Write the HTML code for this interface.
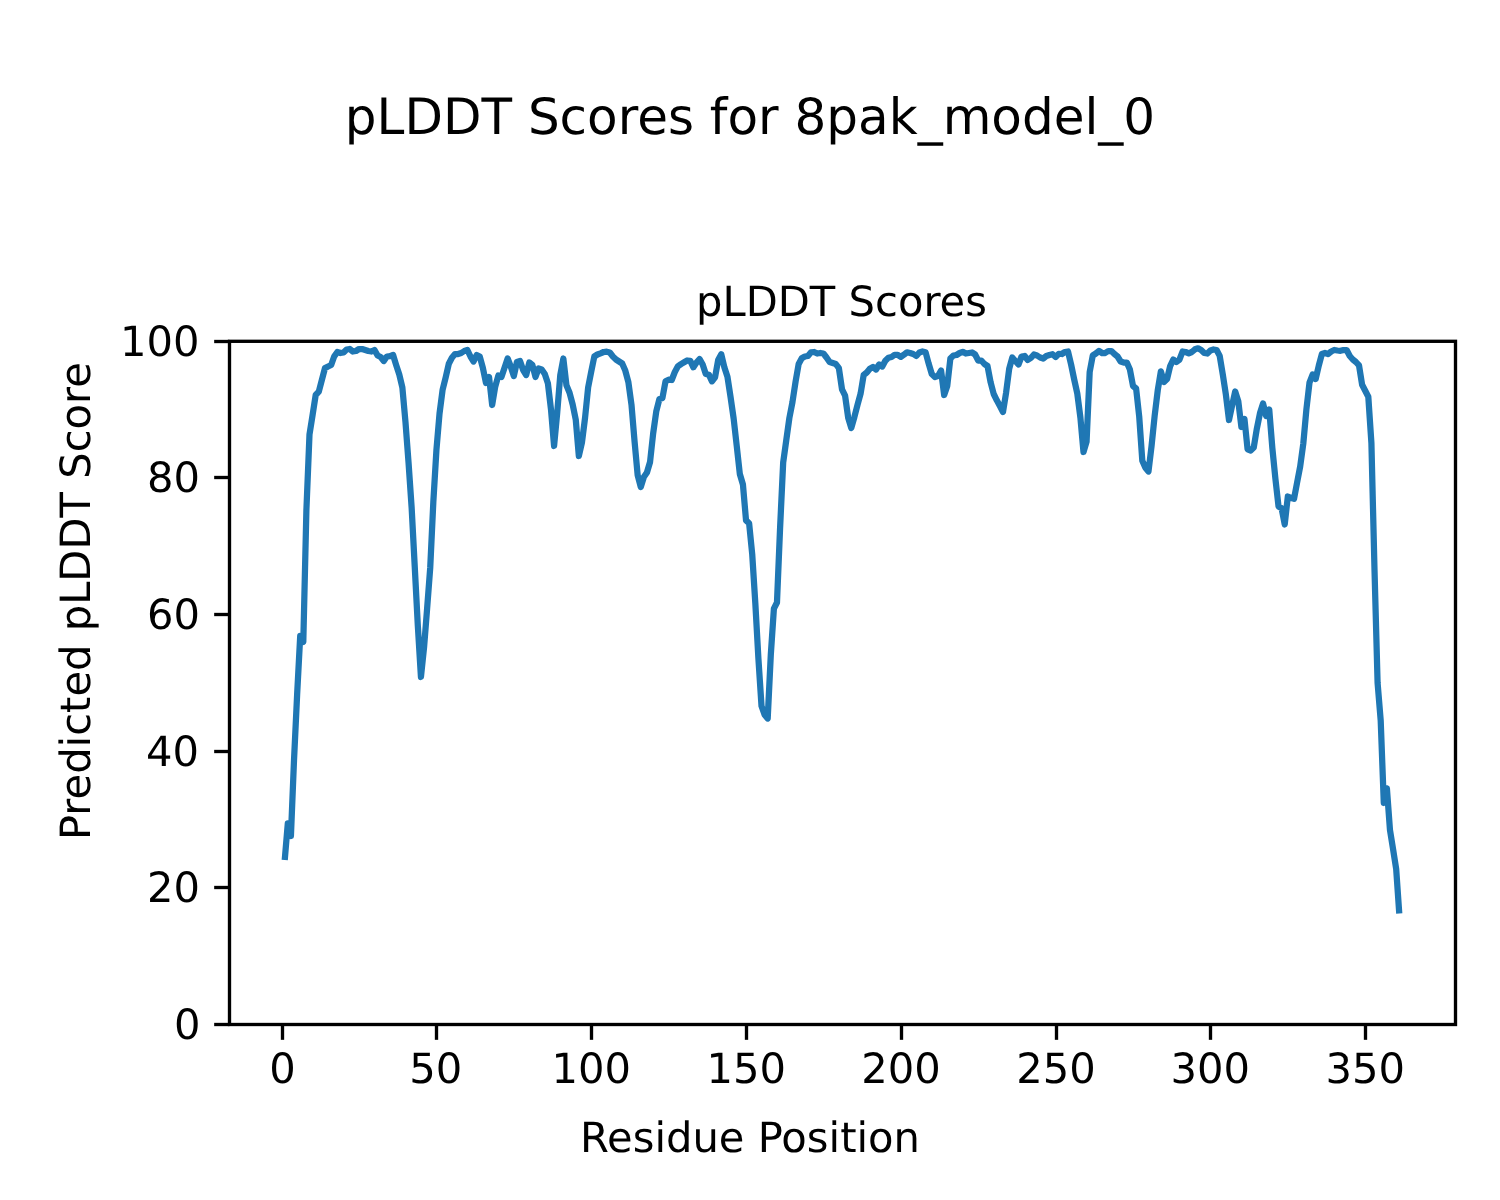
<!DOCTYPE html>
<html lang="en">
<head>
<meta charset="utf-8">
<title>pLDDT Scores for 8pak_model_0</title>
<style>
html,body{margin:0;padding:0;background:#fff;}
body{width:1500px;height:1200px;overflow:hidden;}
svg{display:block;will-change:transform;}
text{font-family:"DejaVu Sans","Liberation Sans",sans-serif;fill:#000;text-rendering:geometricPrecision;}
.t10{font-size:41.6667px;}
.t12{font-size:50.0000px;}
.tick{stroke:#000;stroke-width:3.3333;fill:none;}
</style>
</head>
<body>
<svg width="1500" height="1200" viewBox="0 0 1500 1200">
<rect x="0" y="0" width="1500" height="1200" fill="#ffffff"/>
<text class="t12" x="750.00" y="134.30" text-anchor="middle">pLDDT Scores for 8pak_model_0</text>
<text class="t10" x="841.50" y="316.00" text-anchor="middle">pLDDT Scores</text>
<text class="t10" x="750.00" y="1151.70" text-anchor="middle">Residue Position</text>
<text class="t10" transform="translate(90.00 601.10) rotate(-90)" text-anchor="middle">Predicted pLDDT Score</text>
<g class="tick">
<line x1="282.50" y1="1024.50" x2="282.50" y2="1039.83"/>
<line x1="436.50" y1="1024.50" x2="436.50" y2="1039.83"/>
<line x1="591.50" y1="1024.50" x2="591.50" y2="1039.83"/>
<line x1="746.50" y1="1024.50" x2="746.50" y2="1039.83"/>
<line x1="901.50" y1="1024.50" x2="901.50" y2="1039.83"/>
<line x1="1056.50" y1="1024.50" x2="1056.50" y2="1039.83"/>
<line x1="1210.50" y1="1024.50" x2="1210.50" y2="1039.83"/>
<line x1="1365.50" y1="1024.50" x2="1365.50" y2="1039.83"/>
<line x1="214.17" y1="1024.50" x2="229.50" y2="1024.50"/>
<line x1="214.17" y1="887.50" x2="229.50" y2="887.50"/>
<line x1="214.17" y1="751.50" x2="229.50" y2="751.50"/>
<line x1="214.17" y1="614.50" x2="229.50" y2="614.50"/>
<line x1="214.17" y1="477.50" x2="229.50" y2="477.50"/>
<line x1="214.17" y1="341.50" x2="229.50" y2="341.50"/>
</g>
<g class="t10" text-anchor="middle">
<text x="282.40" y="1083.00">0</text>
<text x="435.86" y="1083.00">50</text>
<text x="591.28" y="1083.00">100</text>
<text x="746.33" y="1083.00">150</text>
<text x="900.90" y="1083.00">200</text>
<text x="1055.97" y="1083.00">250</text>
<text x="1210.28" y="1083.00">300</text>
<text x="1365.35" y="1083.00">350</text>
</g>
<g class="t10" text-anchor="end">
<text x="199.40" y="356.00">100</text>
<text x="200.10" y="492.00">80</text>
<text x="200.10" y="629.00">60</text>
<text x="199.10" y="766.00">40</text>
<text x="200.10" y="902.00">20</text>
<text x="200.60" y="1039.00">0</text>
</g>
<polyline fill="none" stroke="#1f77b4" stroke-width="6.250" stroke-linejoin="round" stroke-linecap="butt" points="284.73,860.00 287.82,823.30 290.92,836.00 294.02,760.00 297.11,695.00 300.21,636.00 303.30,642.00 306.40,510.00 309.49,434.50 312.59,415.00 315.69,395.00 318.78,391.70 321.88,379.90 324.97,368.10 328.07,366.50 331.17,365.00 334.26,356.30 337.36,352.00 340.45,353.00 343.55,352.50 346.65,349.50 349.74,349.00 352.84,351.50 355.93,351.00 359.03,349.00 362.13,349.00 365.22,350.00 368.32,351.00 371.41,351.50 374.51,350.00 377.61,355.50 380.70,357.00 383.80,361.00 386.89,356.50 389.99,356.20 393.09,355.00 396.18,365.10 399.28,374.50 402.37,387.50 405.47,422.00 408.57,463.00 411.66,508.00 414.76,567.00 417.85,626.00 420.95,677.00 424.05,647.50 427.14,608.30 430.24,567.40 433.33,502.00 436.43,450.00 439.53,413.50 442.62,389.70 445.72,377.30 448.81,363.70 451.91,357.70 455.01,354.00 458.10,354.00 461.20,353.00 464.29,351.00 467.39,350.00 470.48,356.50 473.58,361.50 476.68,355.00 479.77,356.50 482.87,367.80 485.96,383.00 489.06,377.00 492.16,405.00 495.25,386.60 498.35,375.50 501.44,377.00 504.54,367.80 507.64,358.50 510.73,366.50 513.83,376.00 516.92,362.00 520.02,361.00 523.12,370.00 526.21,375.00 529.31,362.50 532.40,365.00 535.50,377.00 538.60,368.50 541.69,369.50 544.79,374.00 547.88,383.20 550.98,409.30 554.08,446.00 557.17,413.30 560.27,375.10 563.36,358.50 566.46,385.30 569.56,392.70 572.65,404.40 575.75,419.60 578.84,456.00 581.94,442.60 585.04,418.00 588.13,387.50 591.23,371.70 594.32,356.50 597.42,354.50 600.52,353.30 603.61,352.00 606.71,351.70 609.80,352.50 612.90,356.50 615.99,359.50 619.09,361.50 622.19,363.50 625.28,370.60 628.38,382.10 631.47,404.60 634.57,441.50 637.67,475.30 640.76,487.00 643.86,477.00 646.95,472.50 650.05,462.00 653.15,433.50 656.24,411.60 659.34,399.20 662.43,398.00 665.53,381.30 668.63,379.70 671.72,380.00 674.82,372.00 677.91,366.30 681.01,364.10 684.11,362.30 687.20,360.50 690.30,360.80 693.39,367.30 696.49,362.50 699.59,359.00 702.68,364.50 705.78,374.00 708.87,374.70 711.97,381.30 715.07,377.30 718.16,360.00 721.26,354.30 724.35,367.30 727.45,376.70 730.55,397.00 733.64,418.50 736.74,446.00 739.83,474.00 742.93,484.50 746.03,520.40 749.12,523.30 752.22,554.20 755.31,603.00 758.41,658.60 761.51,706.00 764.60,714.70 767.70,718.50 770.79,655.00 773.89,608.70 776.98,602.50 780.08,528.00 783.18,462.50 786.27,440.30 789.37,418.00 792.46,402.10 795.56,381.70 798.66,364.00 801.75,358.30 804.85,356.50 807.94,356.00 811.04,352.30 814.14,352.00 817.23,353.50 820.33,353.00 823.42,353.50 826.52,357.50 829.62,362.00 832.71,363.00 835.81,364.00 838.90,368.20 842.00,389.30 845.10,395.70 848.19,417.80 851.29,428.00 854.38,417.10 857.48,404.90 860.58,393.70 863.67,375.00 866.77,372.50 869.86,368.70 872.96,367.00 876.06,369.50 879.15,364.50 882.25,366.50 885.34,360.70 888.44,357.70 891.54,357.00 894.63,354.80 897.73,354.80 900.82,356.80 903.92,354.70 907.02,352.30 910.11,353.00 913.21,354.00 916.30,356.00 919.40,352.50 922.49,351.50 925.59,352.20 928.69,363.70 931.78,374.00 934.88,377.00 937.97,376.00 941.07,370.50 944.17,395.00 947.26,386.00 950.36,358.50 953.45,355.50 956.55,355.00 959.65,353.00 962.74,351.80 965.84,353.50 968.93,353.00 972.03,352.50 975.13,354.50 978.22,360.50 981.32,360.50 984.41,364.00 987.51,366.00 990.61,382.30 993.70,394.00 996.80,400.30 999.89,406.00 1002.99,412.00 1006.09,392.70 1009.18,368.90 1012.28,357.50 1015.37,361.00 1018.47,364.50 1021.57,356.50 1024.66,356.00 1027.76,360.00 1030.85,358.00 1033.95,354.50 1037.05,355.50 1040.14,357.50 1043.24,358.50 1046.33,356.00 1049.43,355.00 1052.53,354.20 1055.62,357.00 1058.72,353.80 1061.81,354.00 1064.91,352.00 1068.01,351.50 1071.10,364.50 1074.20,379.50 1077.29,393.50 1080.39,417.50 1083.48,452.00 1086.58,441.50 1089.68,372.00 1092.77,355.50 1095.87,353.50 1098.96,351.00 1102.06,353.00 1105.16,353.00 1108.25,351.00 1111.35,351.00 1114.44,354.00 1117.54,356.50 1120.64,361.50 1123.73,362.50 1126.83,362.50 1129.92,369.60 1133.02,386.00 1136.12,388.50 1139.21,416.50 1142.31,460.70 1145.40,467.70 1148.50,471.50 1151.60,445.60 1154.69,415.50 1157.79,390.00 1160.88,371.30 1163.98,382.00 1167.08,379.00 1170.17,366.10 1173.27,359.50 1176.36,362.00 1179.46,359.70 1182.56,351.50 1185.65,352.00 1188.75,353.30 1191.84,352.00 1194.94,349.30 1198.04,348.30 1201.13,350.00 1204.23,353.00 1207.32,353.50 1210.42,350.50 1213.52,349.50 1216.61,350.00 1219.71,355.90 1222.80,374.60 1225.90,394.80 1228.99,420.00 1232.09,405.70 1235.19,391.50 1238.28,401.10 1241.38,427.00 1244.47,419.00 1247.57,449.30 1250.67,450.50 1253.76,447.50 1256.86,428.60 1259.95,413.30 1263.05,403.50 1266.15,416.00 1269.24,409.50 1272.34,448.00 1275.43,479.00 1278.53,506.50 1281.63,508.30 1284.72,524.50 1287.82,496.50 1290.91,497.90 1294.01,498.80 1297.11,482.50 1300.20,466.40 1303.30,443.60 1306.39,409.50 1309.49,382.60 1312.59,374.50 1315.68,379.00 1318.78,365.60 1321.87,354.00 1324.97,353.00 1328.07,354.00 1331.16,351.50 1334.26,350.00 1337.35,350.50 1340.45,350.80 1343.55,350.00 1346.64,350.00 1349.74,356.00 1352.83,359.50 1355.93,362.00 1359.03,365.40 1362.12,384.70 1365.22,390.70 1368.31,396.70 1371.41,443.00 1374.51,570.00 1377.60,683.00 1380.70,720.50 1383.79,803.00 1386.89,788.30 1389.98,830.00 1393.08,849.30 1396.18,869.00 1399.27,913.50"/>
<rect x="229.50" y="341.30" width="1226.00" height="683.20" fill="none" stroke="#000" stroke-width="3.3333" stroke-linejoin="miter"/>
</svg>
</body>
</html>
